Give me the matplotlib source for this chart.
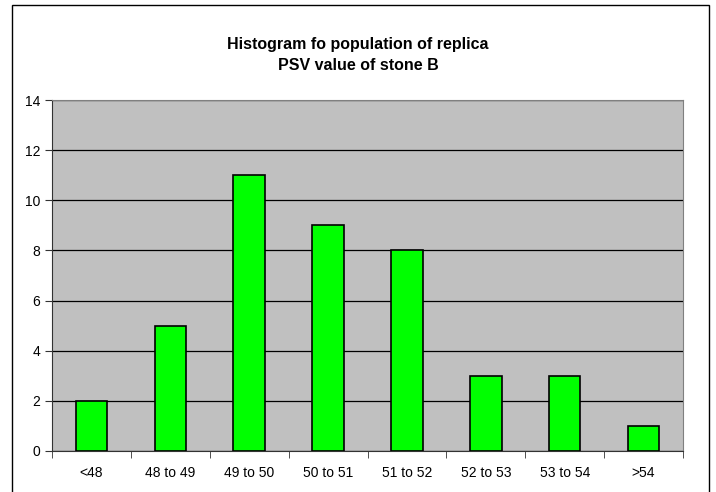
import matplotlib
matplotlib.use("Agg")
import matplotlib.pyplot as plt
from matplotlib.patches import Rectangle

categories = ["<48", "48 to 49", "49 to 50", "50 to 51", "51 to 52", "52 to 53", "53 to 54", ">54"]
counts = [2, 5, 11, 9, 8, 3, 3, 1]
y_ticks = [0, 2, 4, 6, 8, 10, 12, 14]

plt.rcParams["font.family"] = ["Liberation Sans", "DejaVu Sans"]

fig = plt.figure(figsize=(7.16, 4.92), dpi=100)
fig.patch.set_facecolor("white")

# outer chart border (Excel style), bottom edge falls off the image
fig.patches.append(Rectangle((12 / 716, -0.05), (709 - 12) / 716, 1.05 - 5 / 492,
                             transform=fig.transFigure, fill=False,
                             edgecolor="black", linewidth=1.0))

ax = fig.add_axes([52 / 716, 1 - 451 / 492, (683 - 52) / 716, (451 - 100) / 492])
ax.set_facecolor("#c0c0c0")

x = range(len(categories))
ax.bar(x, counts, width=0.4, color="#00ff00", edgecolor="black", linewidth=1.2, zorder=3)

ax.set_xlim(-0.5, len(categories) - 0.5)
ax.set_ylim(0, 14)
ax.set_yticks(y_ticks)
ax.yaxis.grid(True, color="black", linewidth=0.9, zorder=1)
ax.set_axisbelow(True)

ax.set_xticks(list(x))
ax.set_xticklabels(categories, fontsize=10)
ax.set_xticks([i - 0.5 for i in range(len(categories) + 1)], minor=True)
ax.tick_params(axis="x", which="major", length=0, pad=11)
ax.tick_params(axis="x", which="minor", length=5, direction="out", color="#333333")
ax.tick_params(axis="y", length=5, direction="out", labelsize=10, color="#333333")

for side in ("left", "bottom"):
    ax.spines[side].set_color("#333333")
for side in ("top", "right"):
    ax.spines[side].set_color("#808080")

fig.text(0.5, 1 - 45 / 492, "Histogram fo population of replica", ha="center", va="center",
         fontsize=11.5, fontweight="bold")
fig.text(0.5, 1 - 66 / 492, "PSV value of stone B", ha="center", va="center",
         fontsize=11.5, fontweight="bold")

plt.savefig("out.png", dpi=100)
plt.close()
